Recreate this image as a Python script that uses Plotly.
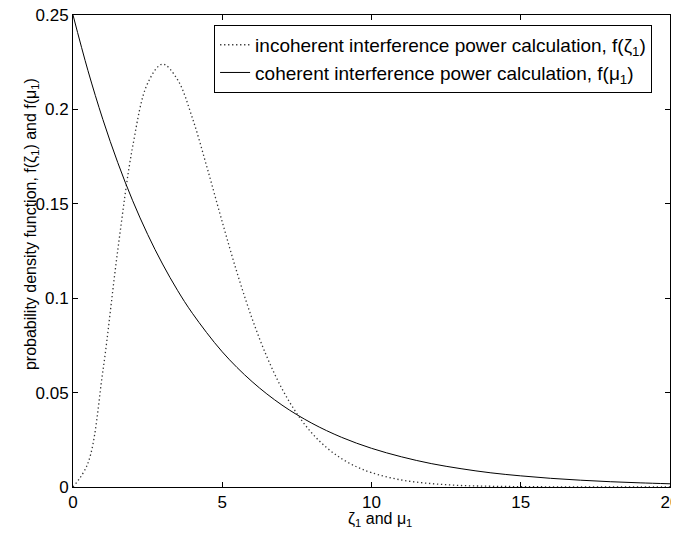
import plotly.graph_objects as go

# values
x_inc = [0, 0.5, 1, 1.5, 2, 2.5, 3, 3.5, 4, 4.5, 5, 5.5, 6, 6.5, 7, 7.5, 8, 8.5,
         9, 9.5, 10, 11, 12, 13, 14, 15, 16, 17, 18, 19, 20]
f_inc = [0.0, 0.0126, 0.0613, 0.1255, 0.1804, 0.2138, 0.2240, 0.2158, 0.1954,
         0.1687, 0.1404, 0.1133, 0.0892, 0.0688, 0.0521, 0.0389, 0.0286, 0.0208,
         0.0150, 0.0107, 0.0076, 0.0037, 0.0018, 0.0008, 0.0004, 0.0002, 0.0001,
         0.0, 0.0, 0.0, 0.0]

x_coh = [0, 0.5, 1, 1.5, 2, 2.5, 3, 3.5, 4, 5, 6, 7, 8, 9, 10, 11, 12, 13, 14,
         15, 16, 17, 18, 19, 20]
f_coh = [0.25, 0.2206, 0.1947, 0.1718, 0.1516, 0.1338, 0.1181, 0.1042, 0.0920,
         0.0716, 0.0558, 0.0434, 0.0338, 0.0263, 0.0205, 0.0160, 0.0124, 0.0097,
         0.0075, 0.0059, 0.0046, 0.0036, 0.0028, 0.0022, 0.0017]

x_ticks = [0, 5, 10, 15, 20]
y_ticks = [0, 0.05, 0.1, 0.15, 0.2, 0.25]
y_labels = ['0', '0.05', '0.1', '0.15', '0.2', '0.25']

font = 'Liberation Sans, Arial, sans-serif'

fig = go.Figure()
fig.add_trace(go.Scatter(
    x=x_inc, y=f_inc, mode='lines',
    name='incoherent interference power calculation, f(ζ<sub>1</sub>)',
    line=dict(color='#333', width=1.3, dash='1.3px,2.7px', shape='spline'),
))
fig.add_trace(go.Scatter(
    x=x_coh, y=f_coh, mode='lines',
    name='coherent interference power calculation, f(μ<sub>1</sub>)',
    line=dict(color='black', width=1, shape='spline'),
))

axis_common = dict(showline=True, linecolor='black', linewidth=1, mirror='ticks',
                   ticks='inside', ticklen=5, tickcolor='black', showgrid=False,
                   zeroline=False, automargin=False, ticklabeloverflow='allow',
                   tickfont=dict(family=font, size=17, color='black'))

fig.update_xaxes(range=[0, 20], tickvals=x_ticks, **axis_common)
fig.update_yaxes(range=[0, 0.25], tickvals=y_ticks, ticktext=y_labels, **axis_common)

# axis titles as annotations so they sit where the original puts them
fig.add_annotation(text='ζ<sub>1</sub> and μ<sub>1</sub>',
                   xref='paper', yref='paper', x=0.514, y=0, yshift=-32,
                   xanchor='center', yanchor='middle', showarrow=False,
                   font=dict(family=font, size=16, color='black'))
fig.add_annotation(text='probability density function, f(ζ<sub>1</sub>) and f(μ<sub>1</sub>)',
                   xref='paper', yref='paper', x=0, y=0.557, xshift=-42,
                   xanchor='center', yanchor='middle', textangle=-90, showarrow=False,
                   font=dict(family=font, size=16, color='black'))

# the page body adds an 8px margin, so the figure is 8px smaller and shifted
fig.update_layout(
    width=671, height=528,
    margin=dict(l=65, r=9, t=7, b=49),
    paper_bgcolor='white', plot_bgcolor='white',
    showlegend=True,
    legend=dict(x=0.97, y=0.979, xanchor='right', yanchor='top',
                bordercolor='black', borderwidth=1, bgcolor='white',
                font=dict(family=font, size=19, color='black'),
                tracegroupgap=0),
)

fig.write_html("out.html")
